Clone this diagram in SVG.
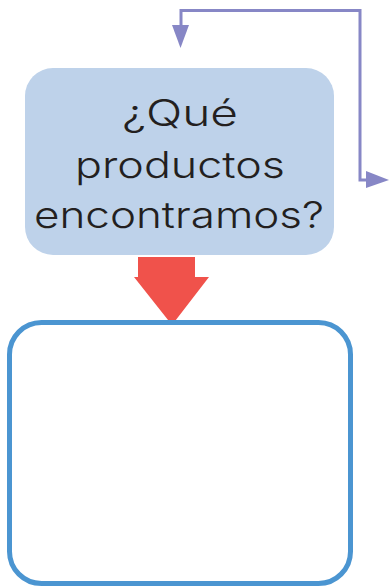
<svg xmlns="http://www.w3.org/2000/svg" width="389" height="587" viewBox="0 0 389 587">
<style>
.q{font-family:"Inter","DejaVu Sans","Liberation Sans",sans-serif;font-weight:300;font-size:37px;fill:#231f20;text-anchor:middle}
.conn{fill:none;stroke:#8787c6;stroke-width:3}
.head{fill:#8787c6}
</style>
<rect width="389" height="587" fill="#ffffff"/>
<g id="connectors">
<path class="conn" d="M181,28 V10.5 H360 V180 H370"/>
<polygon class="head" points="172,25 189,25 180.5,48"/>
<polygon class="head" points="366,171 389,180 366,188"/>
<polygon id="red-arrow" fill="#f0524b" points="138,257 195,257 195,277 209,277 172,325 134,277 138,277"/>
</g>
<g id="question">
<rect x="25" y="68" width="309" height="187" rx="28" fill="#bed2ea"/>
<text class="q" x="180" y="126" textLength="116" lengthAdjust="spacingAndGlyphs">¿Qué</text>
<text class="q" x="180" y="178" textLength="210" lengthAdjust="spacingAndGlyphs">productos</text>
<text class="q" x="179" y="228" textLength="290" lengthAdjust="spacingAndGlyphs">encontramos?</text>
</g>
<g id="answer">
<rect x="9.5" y="322.5" width="341" height="261" rx="32" fill="none" stroke="#4b95d1" stroke-width="5"/>
</g>
</svg>
